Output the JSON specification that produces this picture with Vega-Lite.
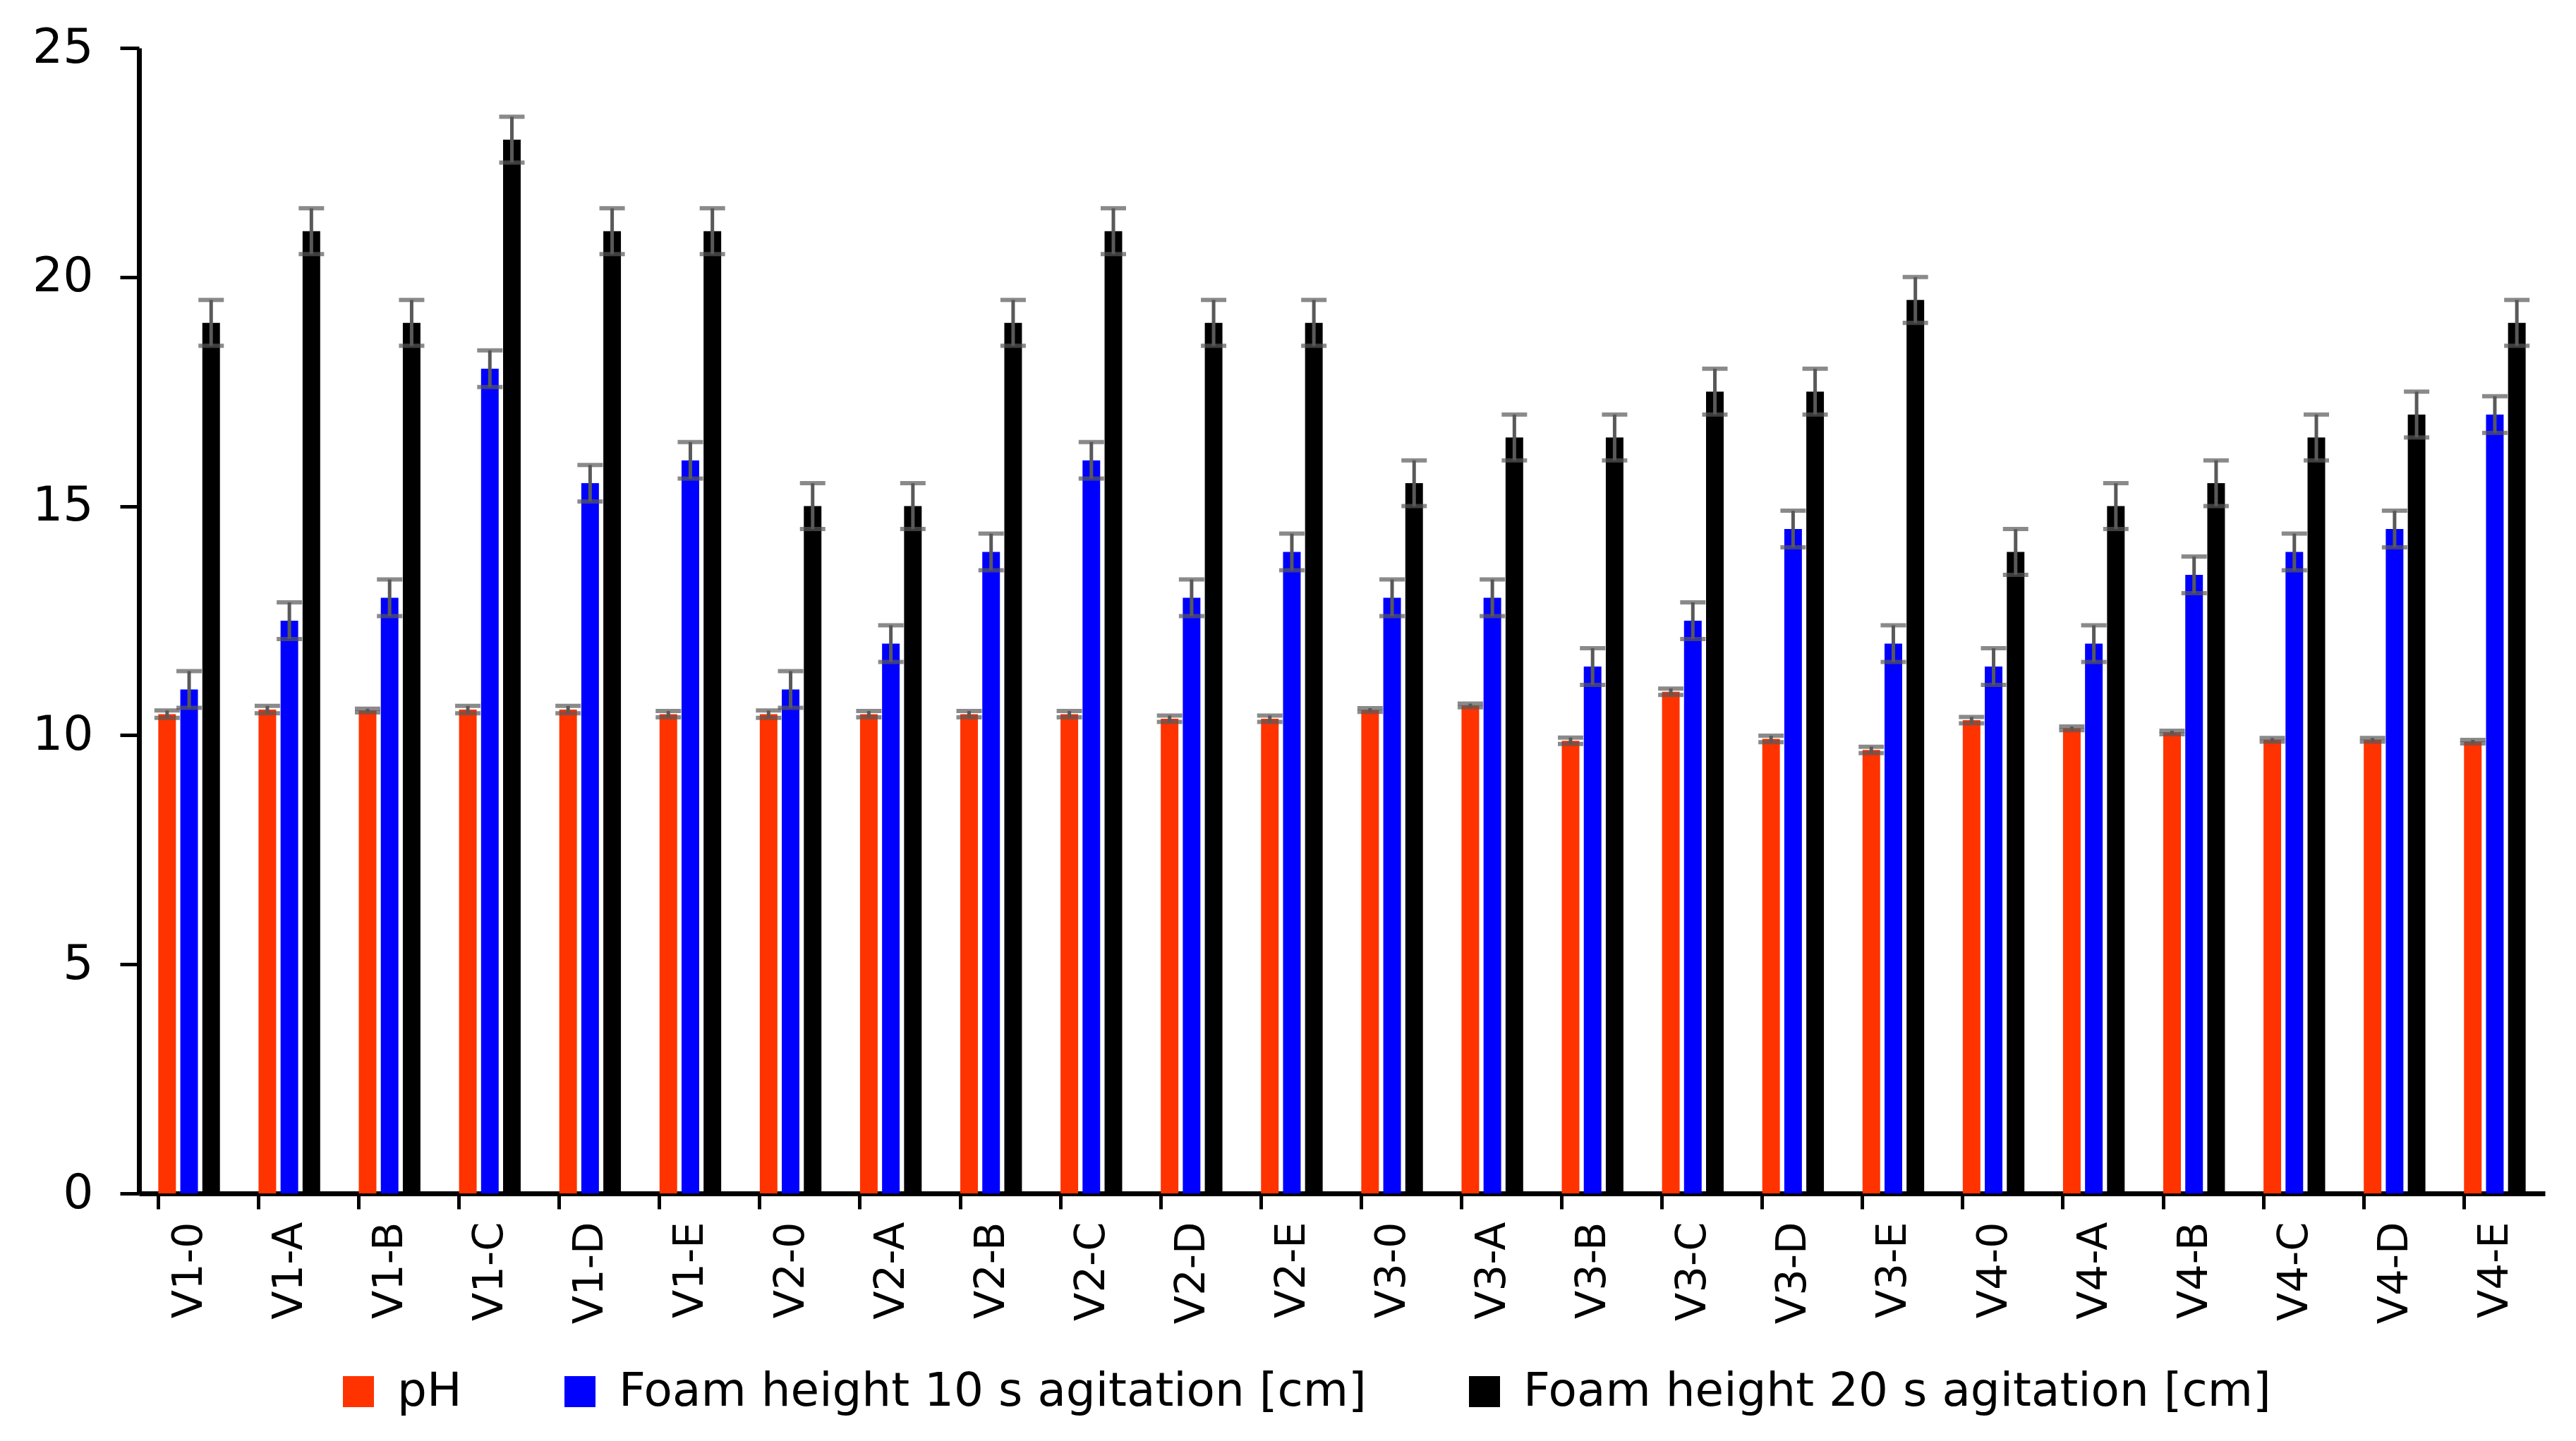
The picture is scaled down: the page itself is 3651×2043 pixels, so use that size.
{
  "$schema": "https://vega.github.io/schema/vega-lite/v6.json",
  "width": 3410,
  "height": 1624,
  "autosize": {"type": "none"},
  "padding": {"left": 197, "top": 68, "right": 44, "bottom": 351},
  "background": "white",
  "config": {
    "view": {"stroke": null},
    "font": "DejaVu Sans",
    "axis": {"grid": false, "domainColor": "black", "domainWidth": 7, "tickColor": "black", "labelColor": "black", "title": null}
  },
  "data": {
    "values": [
      {"name": "V1-0", "series": "pH", "value": 10.46, "low": 10.38, "high": 10.54},
      {"name": "V1-0", "series": "Foam height 10 s agitation [cm]", "value": 11, "low": 10.6, "high": 11.4},
      {"name": "V1-0", "series": "Foam height 20 s agitation [cm]", "value": 19, "low": 18.5, "high": 19.5},
      {"name": "V1-A", "series": "pH", "value": 10.56, "low": 10.48, "high": 10.64},
      {"name": "V1-A", "series": "Foam height 10 s agitation [cm]", "value": 12.5, "low": 12.1, "high": 12.9},
      {"name": "V1-A", "series": "Foam height 20 s agitation [cm]", "value": 21, "low": 20.5, "high": 21.5},
      {"name": "V1-B", "series": "pH", "value": 10.54, "low": 10.5, "high": 10.58},
      {"name": "V1-B", "series": "Foam height 10 s agitation [cm]", "value": 13, "low": 12.6, "high": 13.4},
      {"name": "V1-B", "series": "Foam height 20 s agitation [cm]", "value": 19, "low": 18.5, "high": 19.5},
      {"name": "V1-C", "series": "pH", "value": 10.56, "low": 10.48, "high": 10.64},
      {"name": "V1-C", "series": "Foam height 10 s agitation [cm]", "value": 18, "low": 17.6, "high": 18.4},
      {"name": "V1-C", "series": "Foam height 20 s agitation [cm]", "value": 23, "low": 22.5, "high": 23.5},
      {"name": "V1-D", "series": "pH", "value": 10.56, "low": 10.48, "high": 10.64},
      {"name": "V1-D", "series": "Foam height 10 s agitation [cm]", "value": 15.5, "low": 15.1, "high": 15.9},
      {"name": "V1-D", "series": "Foam height 20 s agitation [cm]", "value": 21, "low": 20.5, "high": 21.5},
      {"name": "V1-E", "series": "pH", "value": 10.46, "low": 10.39, "high": 10.53},
      {"name": "V1-E", "series": "Foam height 10 s agitation [cm]", "value": 16, "low": 15.6, "high": 16.4},
      {"name": "V1-E", "series": "Foam height 20 s agitation [cm]", "value": 21, "low": 20.5, "high": 21.5},
      {"name": "V2-0", "series": "pH", "value": 10.46, "low": 10.38, "high": 10.54},
      {"name": "V2-0", "series": "Foam height 10 s agitation [cm]", "value": 11, "low": 10.6, "high": 11.4},
      {"name": "V2-0", "series": "Foam height 20 s agitation [cm]", "value": 15, "low": 14.5, "high": 15.5},
      {"name": "V2-A", "series": "pH", "value": 10.46, "low": 10.39, "high": 10.53},
      {"name": "V2-A", "series": "Foam height 10 s agitation [cm]", "value": 12, "low": 11.6, "high": 12.4},
      {"name": "V2-A", "series": "Foam height 20 s agitation [cm]", "value": 15, "low": 14.5, "high": 15.5},
      {"name": "V2-B", "series": "pH", "value": 10.46, "low": 10.39, "high": 10.53},
      {"name": "V2-B", "series": "Foam height 10 s agitation [cm]", "value": 14, "low": 13.6, "high": 14.4},
      {"name": "V2-B", "series": "Foam height 20 s agitation [cm]", "value": 19, "low": 18.5, "high": 19.5},
      {"name": "V2-C", "series": "pH", "value": 10.46, "low": 10.39, "high": 10.53},
      {"name": "V2-C", "series": "Foam height 10 s agitation [cm]", "value": 16, "low": 15.6, "high": 16.4},
      {"name": "V2-C", "series": "Foam height 20 s agitation [cm]", "value": 21, "low": 20.5, "high": 21.5},
      {"name": "V2-D", "series": "pH", "value": 10.36, "low": 10.29, "high": 10.43},
      {"name": "V2-D", "series": "Foam height 10 s agitation [cm]", "value": 13, "low": 12.6, "high": 13.4},
      {"name": "V2-D", "series": "Foam height 20 s agitation [cm]", "value": 19, "low": 18.5, "high": 19.5},
      {"name": "V2-E", "series": "pH", "value": 10.36, "low": 10.29, "high": 10.43},
      {"name": "V2-E", "series": "Foam height 10 s agitation [cm]", "value": 14, "low": 13.6, "high": 14.4},
      {"name": "V2-E", "series": "Foam height 20 s agitation [cm]", "value": 19, "low": 18.5, "high": 19.5},
      {"name": "V3-0", "series": "pH", "value": 10.55, "low": 10.51, "high": 10.59},
      {"name": "V3-0", "series": "Foam height 10 s agitation [cm]", "value": 13, "low": 12.6, "high": 13.4},
      {"name": "V3-0", "series": "Foam height 20 s agitation [cm]", "value": 15.5, "low": 15, "high": 16},
      {"name": "V3-A", "series": "pH", "value": 10.65, "low": 10.61, "high": 10.69},
      {"name": "V3-A", "series": "Foam height 10 s agitation [cm]", "value": 13, "low": 12.6, "high": 13.4},
      {"name": "V3-A", "series": "Foam height 20 s agitation [cm]", "value": 16.5, "low": 16, "high": 17},
      {"name": "V3-B", "series": "pH", "value": 9.88, "low": 9.81, "high": 9.95},
      {"name": "V3-B", "series": "Foam height 10 s agitation [cm]", "value": 11.5, "low": 11.1, "high": 11.9},
      {"name": "V3-B", "series": "Foam height 20 s agitation [cm]", "value": 16.5, "low": 16, "high": 17},
      {"name": "V3-C", "series": "pH", "value": 10.95, "low": 10.88, "high": 11.02},
      {"name": "V3-C", "series": "Foam height 10 s agitation [cm]", "value": 12.5, "low": 12.1, "high": 12.9},
      {"name": "V3-C", "series": "Foam height 20 s agitation [cm]", "value": 17.5, "low": 17, "high": 18},
      {"name": "V3-D", "series": "pH", "value": 9.92, "low": 9.85, "high": 9.99},
      {"name": "V3-D", "series": "Foam height 10 s agitation [cm]", "value": 14.5, "low": 14.1, "high": 14.9},
      {"name": "V3-D", "series": "Foam height 20 s agitation [cm]", "value": 17.5, "low": 17, "high": 18},
      {"name": "V3-E", "series": "pH", "value": 9.68, "low": 9.61, "high": 9.75},
      {"name": "V3-E", "series": "Foam height 10 s agitation [cm]", "value": 12, "low": 11.6, "high": 12.4},
      {"name": "V3-E", "series": "Foam height 20 s agitation [cm]", "value": 19.5, "low": 19, "high": 20},
      {"name": "V4-0", "series": "pH", "value": 10.33, "low": 10.26, "high": 10.4},
      {"name": "V4-0", "series": "Foam height 10 s agitation [cm]", "value": 11.5, "low": 11.1, "high": 11.9},
      {"name": "V4-0", "series": "Foam height 20 s agitation [cm]", "value": 14, "low": 13.5, "high": 14.5},
      {"name": "V4-A", "series": "pH", "value": 10.15, "low": 10.11, "high": 10.19},
      {"name": "V4-A", "series": "Foam height 10 s agitation [cm]", "value": 12, "low": 11.6, "high": 12.4},
      {"name": "V4-A", "series": "Foam height 20 s agitation [cm]", "value": 15, "low": 14.5, "high": 15.5},
      {"name": "V4-B", "series": "pH", "value": 10.06, "low": 10.02, "high": 10.1},
      {"name": "V4-B", "series": "Foam height 10 s agitation [cm]", "value": 13.5, "low": 13.1, "high": 13.9},
      {"name": "V4-B", "series": "Foam height 20 s agitation [cm]", "value": 15.5, "low": 15, "high": 16},
      {"name": "V4-C", "series": "pH", "value": 9.9, "low": 9.86, "high": 9.94},
      {"name": "V4-C", "series": "Foam height 10 s agitation [cm]", "value": 14, "low": 13.6, "high": 14.4},
      {"name": "V4-C", "series": "Foam height 20 s agitation [cm]", "value": 16.5, "low": 16, "high": 17},
      {"name": "V4-D", "series": "pH", "value": 9.9, "low": 9.86, "high": 9.94},
      {"name": "V4-D", "series": "Foam height 10 s agitation [cm]", "value": 14.5, "low": 14.1, "high": 14.9},
      {"name": "V4-D", "series": "Foam height 20 s agitation [cm]", "value": 17, "low": 16.5, "high": 17.5},
      {"name": "V4-E", "series": "pH", "value": 9.86, "low": 9.82, "high": 9.9},
      {"name": "V4-E", "series": "Foam height 10 s agitation [cm]", "value": 17, "low": 16.6, "high": 17.4},
      {"name": "V4-E", "series": "Foam height 20 s agitation [cm]", "value": 19, "low": 18.5, "high": 19.5}
    ]
  },
  "encoding": {
    "x": {
      "field": "name",
      "type": "nominal",
      "sort": null,
      "scale": {"paddingInner": 0.385, "paddingOuter": 0.1925},
      "axis": {
        "labelAngle": -90,
        "labelFontSize": 59,
        "labelPadding": 18,
        "tickSize": 22,
        "tickWidth": 5,
        "bandPosition": 0
      }
    },
    "xOffset": {
      "field": "series",
      "type": "nominal",
      "sort": ["pH", "Foam height 10 s agitation [cm]", "Foam height 20 s agitation [cm]"],
      "scale": {"paddingInner": 0.2, "paddingOuter": 0}
    }
  },
  "layer": [
    {
      "mark": {"type": "bar"},
      "encoding": {
        "y": {
          "field": "value",
          "type": "quantitative",
          "scale": {"domain": [0, 25], "nice": false, "zero": true},
          "axis": {
            "values": [0, 5, 10, 15, 20, 25],
            "format": "d",
            "labelFontSize": 68,
            "labelPadding": 38,
            "tickSize": 27,
            "tickWidth": 5
          }
        },
        "color": {
          "field": "series",
          "type": "nominal",
          "sort": ["pH", "Foam height 10 s agitation [cm]", "Foam height 20 s agitation [cm]"],
          "scale": {"range": ["#FF3300", "#0000FF", "#000000"]},
          "legend": {
            "orient": "none",
            "legendX": 278,
            "legendY": 1872,
            "direction": "horizontal",
            "title": null,
            "symbolType": "square",
            "symbolSize": 1936,
            "symbolStrokeWidth": 0,
            "labelFontSize": 66,
            "labelColor": "black",
            "labelOffset": 22,
            "labelLimit": 2000,
            "columnPadding": 134,
            "padding": 0
          }
        }
      }
    },
    {
      "mark": {"type": "rule", "color": "#595959", "strokeWidth": 5},
      "encoding": {
        "y": {"field": "low", "type": "quantitative", "scale": {"domain": [0, 25], "nice": false}},
        "y2": {"field": "high"}
      }
    },
    {
      "mark": {"type": "tick", "color": "#595959", "thickness": 6, "size": 36, "orient": "horizontal"},
      "encoding": {
        "y": {"field": "low", "type": "quantitative", "scale": {"domain": [0, 25], "nice": false}}
      }
    },
    {
      "mark": {"type": "tick", "color": "#595959", "thickness": 6, "size": 36, "orient": "horizontal"},
      "encoding": {
        "y": {"field": "high", "type": "quantitative", "scale": {"domain": [0, 25], "nice": false}}
      }
    }
  ]
}
